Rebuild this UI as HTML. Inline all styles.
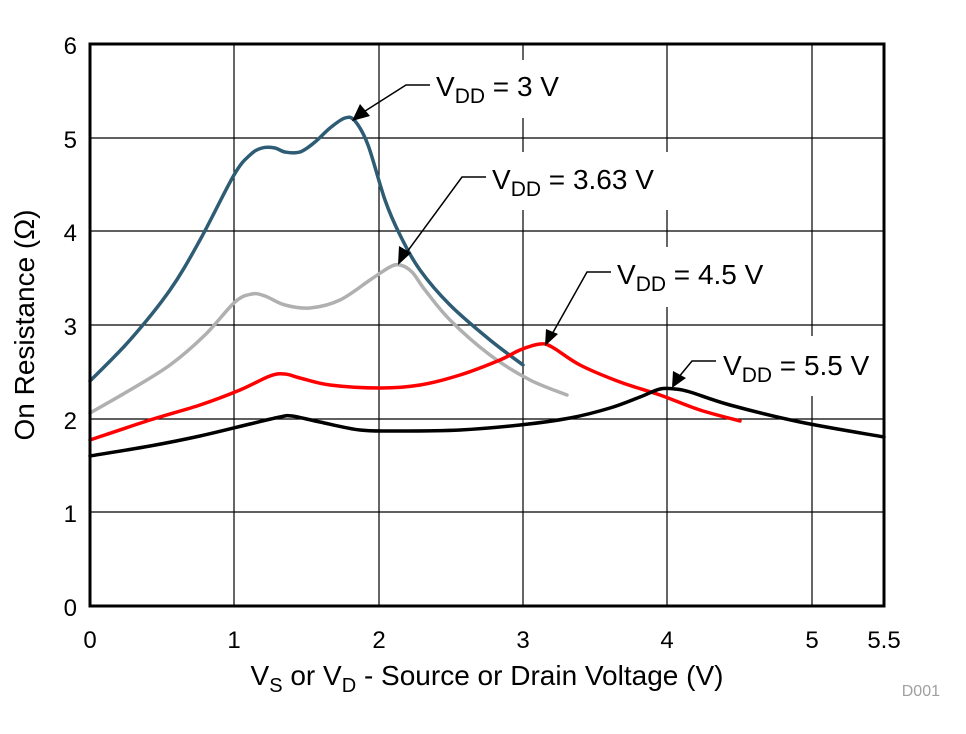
<!DOCTYPE html>
<html><head><meta charset="utf-8"><style>body{margin:0;background:#fff}svg{display:block}text{font-family:"Liberation Sans",Arial,sans-serif;fill:#000}</style></head>
<body>
<svg id="s" width="966" height="734" xmlns="http://www.w3.org/2000/svg">
<g stroke="#000" stroke-width="1.2">
<line x1="234" y1="44" x2="234" y2="606"/><line x1="379" y1="44" x2="379" y2="606"/><line x1="523" y1="44" x2="523" y2="606"/><line x1="667" y1="44" x2="667" y2="606"/><line x1="812" y1="44" x2="812" y2="606"/>
<line x1="90" y1="138" x2="884" y2="138"/><line x1="90" y1="231" x2="884" y2="231"/><line x1="90" y1="325" x2="884" y2="325"/><line x1="90" y1="419" x2="884" y2="419"/><line x1="90" y1="512" x2="884" y2="512"/>
</g>
<g fill="#fff">
<rect x="432" y="60" width="135" height="58"/>
<rect x="488" y="152" width="190" height="58"/>
<rect x="613" y="247" width="165" height="60"/>
<rect x="719" y="336" width="160" height="60"/>
</g>
<g id="curves" fill="none" stroke-width="3.5" stroke-linejoin="round" stroke-linecap="round">
<polyline stroke="#2e5c74" points="90,381 130,340 170,290 200,240 234,175 250,155 262,148 275,148 285,152 300,152 315,142 330,128 345,118 355,121 368,145 385,200 400,235 420,270 450,305 490,340 523,365"/>
<polyline stroke="#b0b0b0" points="90,413 130,390 170,365 205,335 235,302 252,294 265,296 285,305 310,308 340,300 370,280 390,267 400,265 412,272 425,290 450,320 490,355 530,380 567,395"/>
<polyline stroke="#ff0000" points="90,440 150,420 200,405 240,390 270,376 285,374 300,378 330,385 380,388 420,385 460,375 500,360 520,350 540,344 552,347 580,365 620,382 660,395 700,410 740,421"/>
<polyline stroke="#000" points="90,456 150,446 200,436 250,424 280,417 292,416 320,422 360,430 400,431 460,430 520,425 570,418 610,408 640,397 660,389 675,389 690,392 730,405 800,422 884,437"/>
</g>
<rect x="90" y="44" width="794" height="562" fill="none" stroke="#000" stroke-width="3"/>
<g stroke="#000" stroke-width="1.5" fill="none">
<polyline points="430,85 406,85 362,113"/>
<polyline points="486,177 462,177 404,256"/>
<polyline points="611,272 587,272 551,336"/>
<polyline points="716,361 692,361 678,378"/>
</g>
<g fill="#000">
<polygon points="352,121 360,104 370,116"/>
<polygon points="398,265 399,246 411,253"/>
<polygon points="545,346 546,329 558,334"/>
<polygon points="672,388 673,371 686,378"/>
</g>
<g font-size="28">
<text x="436" y="96">V<tspan font-size="21" dy="7">DD</tspan><tspan dy="-7"> = 3 V</tspan></text>
<text x="492" y="189">V<tspan font-size="21" dy="7">DD</tspan><tspan dy="-7"> = 3.63 V</tspan></text>
<text x="617" y="284">V<tspan font-size="21" dy="7">DD</tspan><tspan dy="-7"> = 4.5 V</tspan></text>
<text x="723" y="375">V<tspan font-size="21" dy="7">DD</tspan><tspan dy="-7"> = 5.5 V</tspan></text>
</g>
<g font-size="24" text-anchor="end">
<text x="77" y="54">6</text><text x="77" y="148">5</text><text x="77" y="241">4</text><text x="77" y="335">3</text><text x="77" y="429">2</text><text x="77" y="522">1</text><text x="77" y="616">0</text>
</g>
<g font-size="24" text-anchor="middle">
<text x="90" y="648">0</text><text x="234" y="648">1</text><text x="379" y="648">2</text><text x="523" y="648">3</text><text x="667" y="648">4</text><text x="812" y="648">5</text><text x="884" y="648">5.5</text>
</g>
<text x="487" y="685" font-size="28" text-anchor="middle">V<tspan font-size="20" dy="7">S</tspan><tspan dy="-7"> or V</tspan><tspan font-size="20" dy="7">D</tspan><tspan dy="-7"> - Source or Drain Voltage (V)</tspan></text>
<text transform="translate(34,325) rotate(-90)" font-size="28" text-anchor="middle">On Resistance (Ω)</text>
<text x="940" y="696" font-size="16" text-anchor="end" style="fill:#a0a0a0">D001</text>
</svg>
<script>
document.querySelectorAll('#curves polyline').forEach(function(pl){
var p=pl.getAttribute('points').trim().split(/\s+/).map(function(s){return s.split(',').map(Number);});
var d='M'+p[0][0]+','+p[0][1];
for(var i=0;i<p.length-1;i++){
var p0=p[i-1]||p[i],p1=p[i],p2=p[i+1],p3=p[i+2]||p2;
var c1=[p1[0]+(p2[0]-p0[0])/6,p1[1]+(p2[1]-p0[1])/6],c2=[p2[0]-(p3[0]-p1[0])/6,p2[1]-(p3[1]-p1[1])/6];
d+=' C'+c1+' '+c2+' '+p2;}
var path=document.createElementNS('http://www.w3.org/2000/svg','path');
path.setAttribute('d',d);path.setAttribute('stroke',pl.getAttribute('stroke'));
pl.parentNode.replaceChild(path,pl);});
</script>
</body></html>
